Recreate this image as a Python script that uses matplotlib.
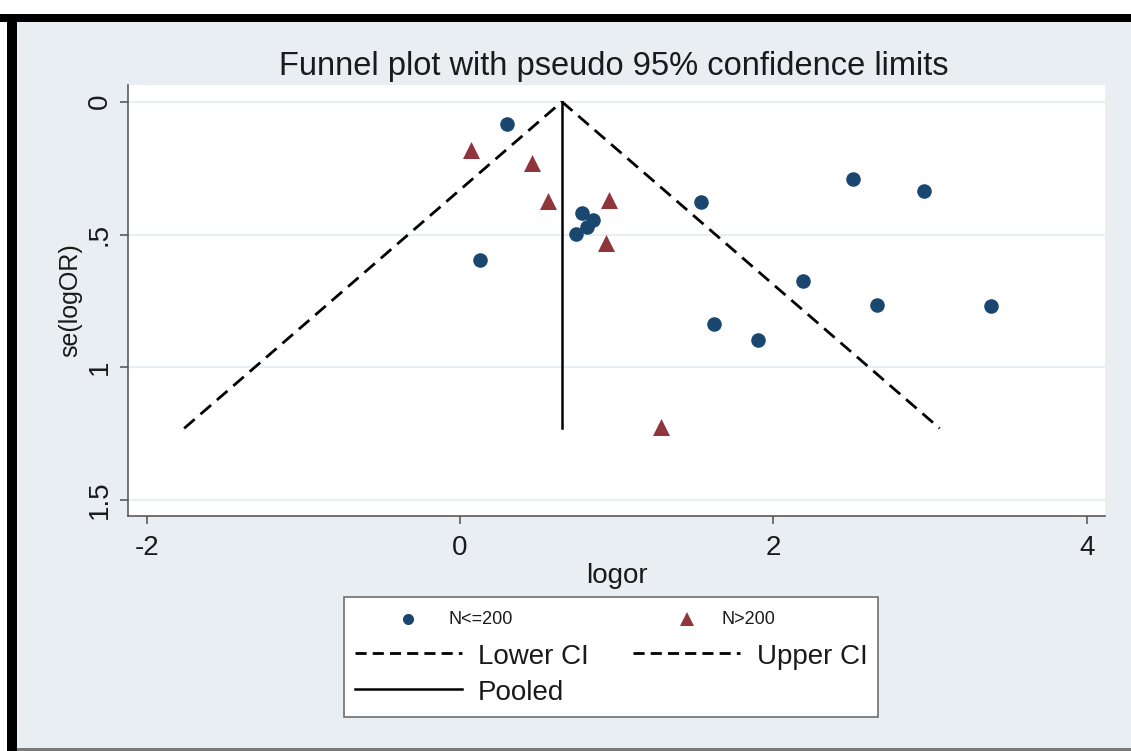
import numpy as np
import matplotlib
matplotlib.use('Agg')
import matplotlib.pyplot as plt
from matplotlib.lines import Line2D
from matplotlib.patches import Rectangle
from matplotlib.transforms import Affine2D

plt.rcParams['font.family'] = ['Liberation Sans', 'DejaVu Sans']

# studies with N<=200
small_logor = [0.30, 0.13, 0.78, 0.85, 0.81, 0.74, 1.54, 2.51, 2.96, 2.19, 2.66, 3.39, 1.62, 1.90]
small_se = [0.085, 0.596, 0.418, 0.444, 0.473, 0.497, 0.377, 0.292, 0.336, 0.674, 0.767, 0.769, 0.836, 0.897]
# studies with N>200
large_logor = [0.07, 0.46, 0.56, 0.95, 0.93, 1.28]
large_se = [0.182, 0.231, 0.375, 0.370, 0.533, 1.226]

pooled = 0.65
se_max = 1.23
z = 1.96

bg = '#e8eef1'
navy = '#1a476f'
maroon = '#90353b'
axcol = '#5a5a5a'

fig = plt.figure(figsize=(11.31, 7.51), dpi=100)
fig.patch.set_facecolor(bg)

# frame around the graph region
fig.add_artist(Rectangle((0, 1 - 14 / 751), 1, 14 / 751, transform=fig.transFigure,
                         color='white', lw=0, zorder=-5))
fig.add_artist(Rectangle((0, 0), 7 / 1131, 1, transform=fig.transFigure,
                         color='white', lw=0, zorder=-5))
fig.add_artist(Rectangle((0, 1 - 22 / 751), 1, 8 / 751, transform=fig.transFigure,
                         color='black', lw=0, zorder=-4))
fig.add_artist(Rectangle((7 / 1131, 0), 10 / 1131, 1 - 14 / 751, transform=fig.transFigure,
                         color='black', lw=0, zorder=-4))
fig.add_artist(Rectangle((17 / 1131, 0), 1, 3 / 751, transform=fig.transFigure,
                         color='#7a7a7a', lw=0, zorder=-4))

ax = fig.add_axes([128 / 1131, 1 - 516 / 751, 977 / 1131, 431 / 751])
ax.set_facecolor('white')

for yv in [0, 0.5, 1, 1.5]:
    ax.axhline(yv, color=bg, lw=1.5, zorder=0)

dash = (0, (5, 2.8))
ax.plot([pooled - z * se_max, pooled], [se_max, 0], color='black', lw=2, linestyle=dash, zorder=2)
ax.plot([pooled, pooled + z * se_max], [0, se_max], color='black', lw=2, linestyle=dash, zorder=2)
ax.plot([pooled, pooled], [0, se_max], color='black', lw=1.8, zorder=2)

ax.scatter(small_logor, small_se, s=110, marker='o', color=navy, zorder=3, linewidths=0)
ax.scatter(large_logor, large_se, s=150, marker='^', color=maroon, zorder=3, linewidths=0)

ax.set_xlim(-2.119, 4.116)
ax.set_ylim(1.56, -0.063)
ax.set_xticks([-2, 0, 2, 4])
ax.set_yticks([0, 0.5, 1, 1.5])
ax.set_yticklabels(['0', '.5', '1', '1.5'])
ax.set_xticklabels(['-2', '0', '2', '4'])

for side in ['top', 'right']:
    ax.spines[side].set_visible(False)
for side in ['left', 'bottom']:
    ax.spines[side].set_color(axcol)
    ax.spines[side].set_linewidth(1.2)
ax.tick_params(axis='both', colors=axcol, length=6, width=1.2, labelsize=20,
               labelcolor='#1a1a1a')
ax.tick_params(axis='x', pad=8)
ax.tick_params(axis='y', pad=5)
for lab in ax.get_yticklabels():
    lab.set_rotation(90)
    lab.set_va('center')

ax.set_xlabel('logor', fontsize=20, color='#1a1a1a', labelpad=1)
ax.set_ylabel('se(logOR)', fontsize=18, color='#1a1a1a', labelpad=3)

fig.text(614 / 1131, 1 - 66 / 751, 'Funnel plot with pseudo 95% confidence limits',
         fontsize=23.5, color='#1a1a1a', ha='center', va='center')

handles = [
    Line2D([], [], marker='o', color=navy, linestyle='none', markersize=8, markeredgewidth=0),
    Line2D([], [], color='black', lw=2, linestyle=(0, (4, 2.2))),
    Line2D([], [], color='black', lw=1.8),
    Line2D([], [], marker='^', color=maroon, linestyle='none', markersize=9.5, markeredgewidth=0),
    Line2D([], [], color='black', lw=2, linestyle=(0, (4, 2.2))),
]
labels = ['N<=200', 'Lower CI', 'Pooled', 'N>200', 'Upper CI']
leg = fig.legend(handles, labels, ncol=2, loc='upper left',
                 bbox_to_anchor=(344 / 1131, 1 - 597 / 751), bbox_transform=fig.transFigure,
                 borderaxespad=0, fontsize=20, handlelength=3.85, handletextpad=0.6,
                 handleheight=1.0, labelspacing=0.3, columnspacing=1.6, borderpad=0.38,
                 fancybox=False, frameon=True, framealpha=1, numpoints=1)
leg.get_frame().set_edgecolor('#6e6e6e')
leg.get_frame().set_linewidth(1.2)
# marker keys carry smaller labels, set closer to the symbol
key_shift = {'N<=200': -30, 'N>200': -35}
for t in leg.get_texts():
    t.set_color('#1a1a1a')
    if t.get_text() in key_shift:
        t.set_fontsize(13)
        t.set_transform(t.get_transform() + Affine2D().translate(key_shift[t.get_text()], 5))

fig.savefig('out.png', dpi=100, facecolor=fig.get_facecolor())
